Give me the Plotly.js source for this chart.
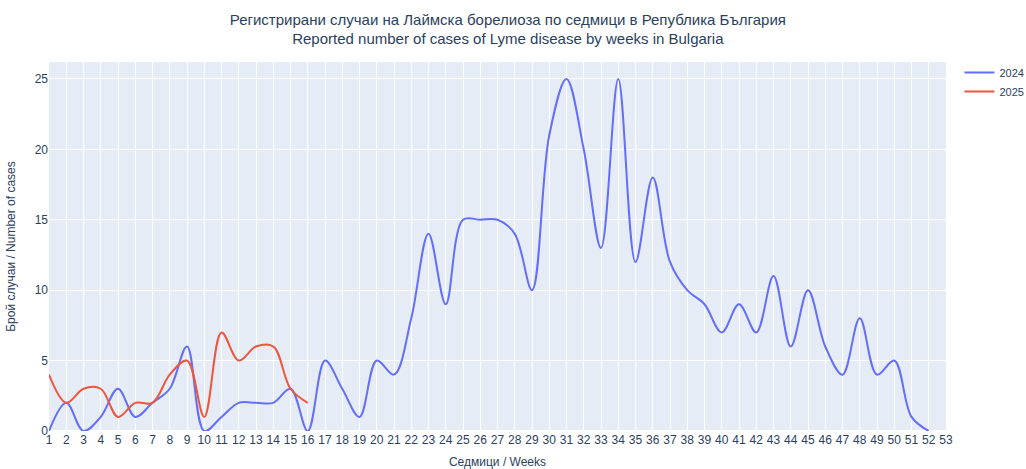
<!DOCTYPE html>
<html>
<head>
<meta charset="utf-8">
<script src="https://cdn.plot.ly/plotly-3.0.1.min.js"></script>
<style>html,body{margin:0;padding:0;}#chart{width:1026px;height:469px;}</style>
</head>
<body>
<div id="chart"></div>
<script>
const weeks2024 = [1,2,3,4,5,6,7,8,9,10,11,12,13,14,15,16,17,18,19,20,21,22,23,24,25,26,27,28,29,30,31,32,33,34,35,36,37,38,39,40,41,42,43,44,45,46,47,48,49,50,51,52];
const cases2024 = [0,2,0,1,3,1,2,3,6,0,1,2,2,2,3,0,5,3,1,5,4,8,14,9,15,15,15,14,10,21,25,20,13,25,12,18,12,10,9,7,9,7,11,6,10,6,4,8,4,5,1,0];
const weeks2025 = [1,2,3,4,5,6,7,8,9,10,11,12,13,14,15,16];
const cases2025 = [4,2,3,3,1,2,2,4,5,1,7,5,6,6,3,2];
const tickVals = [];
for (let w = 1; w <= 53; w++) tickVals.push(w);

const traces = [
  {x: weeks2024, y: cases2024, name: '2024', type: 'scatter', mode: 'lines',
   line: {shape: 'spline', color: '#636efa', width: 2}},
  {x: weeks2025, y: cases2025, name: '2025', type: 'scatter', mode: 'lines',
   line: {shape: 'spline', color: '#EF553B', width: 2}}
];
const layout = {
  width: 1026, height: 469,
  margin: {l: 49, r: 80, t: 62, b: 38, autoexpand: false},
  paper_bgcolor: '#ffffff', plot_bgcolor: '#E5ECF6',
  font: {family: 'Arial, "Liberation Sans", sans-serif', size: 12, color: '#2a3f5f'},
  title: {text: 'Регистрирани случаи на Лаймска борелиоза по седмици в Република България<br>Reported number of cases of Lyme disease by weeks in Bulgaria',
          x: 0.495, xanchor: 'center', y: 0.947, yanchor: 'top', font: {size: 15}},
  xaxis: {title: {text: 'Седмици / Weeks', font: {size: 12}}, range: [1, 53], tickmode: 'array', tickvals: tickVals,
          gridcolor: '#ffffff', zeroline: false, showline: false, automargin: false},
  yaxis: {title: {text: 'Брой случаи / Number of cases', font: {size: 12}}, range: [0, 26.2], dtick: 5,
          gridcolor: '#ffffff', zeroline: true, zerolinecolor: '#ffffff', zerolinewidth: 2, automargin: false},
  legend: {x: 1.015, y: 1.011, xanchor: 'left', yanchor: 'top', font: {size: 11}},
  showlegend: true
};
Plotly.newPlot('chart', traces, layout, {displayModeBar: false});
</script>
</body>
</html>
